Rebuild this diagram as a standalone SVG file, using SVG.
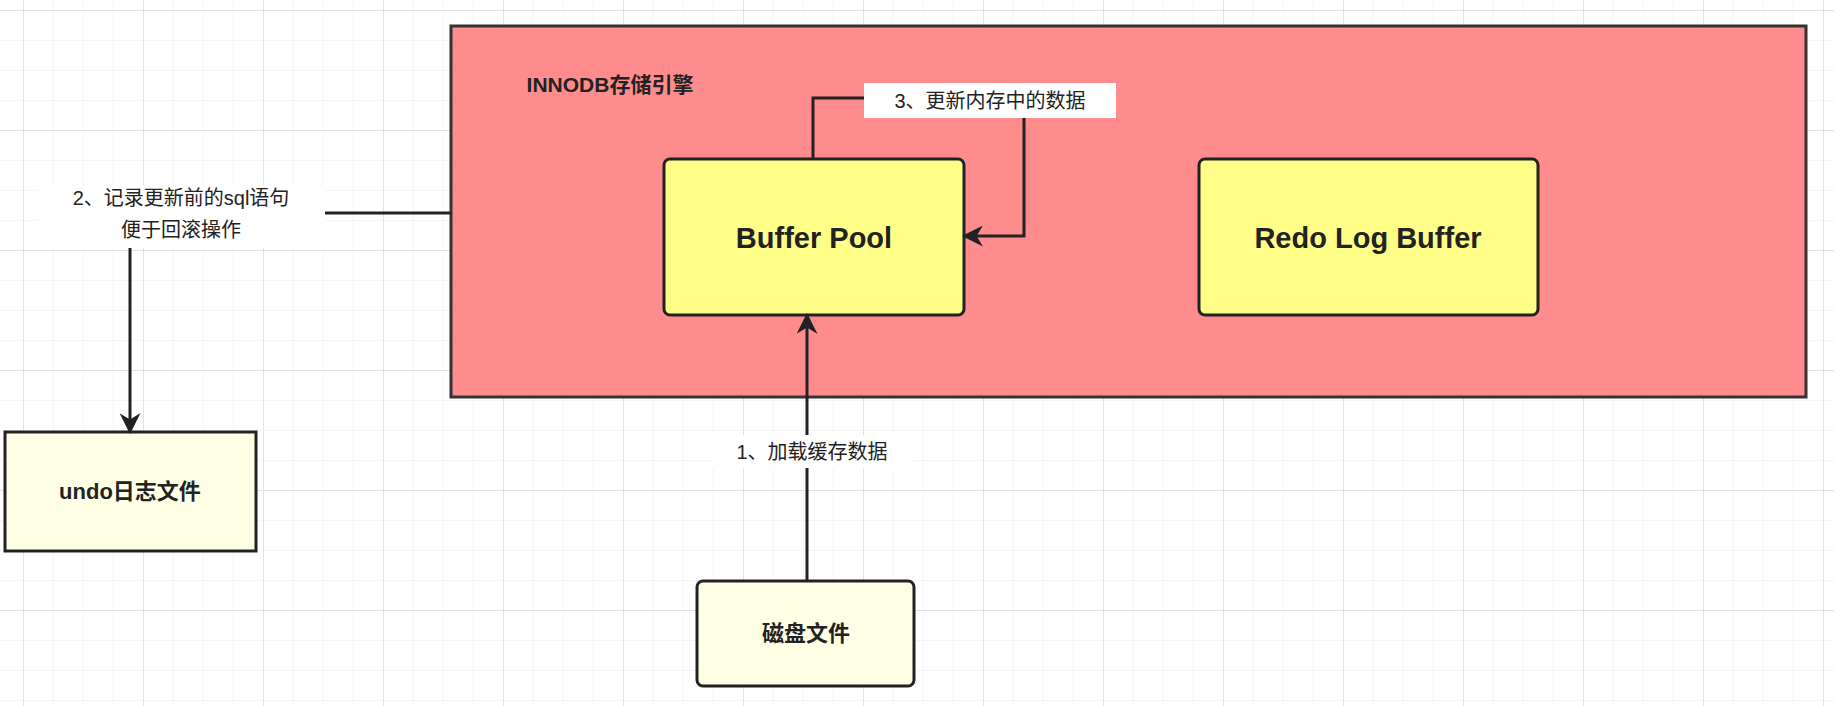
<svg xmlns="http://www.w3.org/2000/svg" width="1834" height="706" viewBox="0 0 1834 706">
<defs>
<pattern id="g" x="23" y="10" width="30" height="30" patternUnits="userSpaceOnUse"><path d="M0 0H30M0 0V30" stroke="#ebebeb" stroke-width="1" fill="none"/></pattern>
<pattern id="G" x="23" y="10" width="120" height="120" patternUnits="userSpaceOnUse"><path d="M0 0H120M0 0V120" stroke="#dcdcdc" stroke-width="1.5" fill="none"/></pattern>
<marker id="a" viewBox="0 0 10 10" refX="9" refY="5" markerWidth="7" markerHeight="7" orient="auto"><path d="M0 0L10 5L0 10L3 5Z" fill="#222"/></marker>
<style>
.t{font-family:"Liberation Sans","Noto Sans CJK SC",sans-serif;fill:#222;text-anchor:middle}
.l{font-size:20px}
.b{font-weight:bold}
.c{stroke:#222;stroke-width:3;fill:none}
</style>
</defs>
<rect width="1834" height="706" fill="#fff"/>
<rect width="1834" height="706" fill="url(#g)"/>
<rect width="1834" height="706" fill="url(#G)"/>
<g id="innodb"><rect x="451" y="26" width="1355" height="371" fill="#ff8c8c" stroke="#333" stroke-width="3"/>
<text class="t b" x="610" y="92" font-size="21">INNODB存储引擎</text></g>
<g id="bufferpool"><rect x="664" y="159" width="300" height="156" rx="6" fill="#ffff88" stroke="#222" stroke-width="3"/>
<text class="t b" x="814" y="248" font-size="29">Buffer Pool</text></g>
<g id="redolog"><rect x="1199" y="159" width="339" height="156" rx="6" fill="#ffff88" stroke="#222" stroke-width="3"/>
<text class="t b" x="1368" y="248" font-size="29">Redo Log Buffer</text></g>
<g id="undo"><rect x="5" y="432" width="251" height="119" fill="#ffffe6" stroke="#222" stroke-width="3"/>
<text class="t b" x="130" y="499" font-size="22">undo日志文件</text></g>
<g id="disk"><rect x="697" y="581" width="217" height="105" rx="6" fill="#ffffe6" stroke="#222" stroke-width="3"/>
<text class="t b" x="806" y="641" font-size="22">磁盘文件</text></g>
<g id="connectors">
<path class="c" d="M807 581V315" marker-end="url(#a)"/>
<path class="c" d="M451 213H130V432" marker-end="url(#a)"/>
<path class="c" d="M813 159V98H1024V236H964" marker-end="url(#a)"/>
<rect x="712" y="435" width="200" height="33" fill="#fff"/>
<text class="t l" x="812" y="459">1、加载缓存数据</text>
<rect x="38" y="185" width="287" height="63" fill="#fff"/>
<text class="t l" x="181" y="205">2、记录更新前的sql语句</text>
<text class="t l" x="181" y="237">便于回滚操作</text>
<rect x="864" y="83" width="252" height="35" fill="#fff"/>
<text class="t l" x="990" y="108">3、更新内存中的数据</text>
</g>
</svg>
